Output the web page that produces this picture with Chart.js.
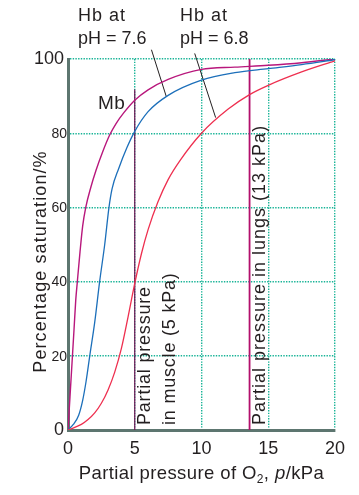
<!DOCTYPE html>
<html>
<head>
<meta charset="utf-8">
<script src="https://cdn.jsdelivr.net/npm/chart.js@4"></script>
<style>
  html, body { margin: 0; padding: 0; background: #fff; }
  canvas { display: block; }
</style>
</head>
<body>
<canvas id="chart" width="359" height="495"></canvas>
<script>
// oxygen dissociation curves
const mbPressure = [0, 0.15, 0.3, 0.45, 0.58, 0.7, 0.9, 1.1, 1.33, 1.7, 2.1, 2.6, 3.12, 3.6, 4.2, 5, 6, 7.5, 10, 12.5, 15, 17.5, 20];
const mbSat      = [0, 9, 18, 27, 35, 40, 48, 55, 60, 65.3, 70, 75, 79.5, 82.6, 85.6, 88.9, 91.7, 94.5, 97.2, 97.8, 98.3, 99, 100];

const hb76Pressure = [0, 0.4, 0.8, 1.1, 1.35, 1.63, 2.0, 2.37, 2.75, 3.07, 3.3, 3.8, 4.4, 5, 6, 7.5, 10, 12.5, 15, 17.5, 20];
const hb76Sat      = [0, 1.5, 4, 8, 13, 20, 29, 40, 50, 60, 65, 70.5, 76, 80.5, 85.8, 90.2, 94.3, 96.3, 97.4, 98.5, 99.8];

const hb68Pressure = [0, 1, 1.5, 2, 2.5, 3, 3.5, 4, 4.5, 5, 5.5, 6, 6.74, 7.5, 8.4, 10, 12, 13.6, 15, 17.5, 20];
const hb68Sat      = [0, 1.5, 2.8, 4.6, 7.2, 10.8, 15.6, 22, 30.5, 39.5, 47.5, 54, 61.5, 67.5, 72.7, 80, 86.5, 90.4, 92.9, 96.5, 99.5];

// reference lines
const musclePressure = [5, 5];
const muscleSat = [0, 91.8];
const lungPressure = [13.6, 13.6];
const lungSat = [0, 100];

// leader lines from the two Hb labels
const leader76Pressure = [6.25, 7.37];
const leader76Sat = [102.5, 89.8];
const leader68Pressure = [9.49, 11.06];
const leader68Sat = [101.5, 84.2];

const xTicks = [0, 5, 10, 15, 20];
const yTicks = [0, 20, 40, 60, 80, 100];

const FONT = "'Liberation Sans', Arial, Helvetica, sans-serif";
const INK = "#231f20";
const GRID = "#19b497";
const AXIS = "#5d7670";

const pts = (xs, ys) => xs.map((x, i) => ({ x: x, y: ys[i] }));

function curve(label, xs, ys, color, width) {
  return {
    label: label,
    data: pts(xs, ys),
    borderColor: color,
    backgroundColor: color,
    borderWidth: width,
    pointRadius: 0,
    tension: 0.4,
    cubicInterpolationMode: "monotone",
    fill: false
  };
}

function text(ctx, s, x, y, size, spacing, align) {
  ctx.font = size + "px " + FONT;
  ctx.letterSpacing = (spacing || 0) + "px";
  ctx.textAlign = align || "left";
  ctx.textBaseline = "alphabetic";
  ctx.fillText(s, x, y);
}

const labelsPlugin = {
  id: "labels",
  afterDraw(chart) {
    const ctx = chart.ctx;
    const xs = chart.scales.x;
    const ys = chart.scales.y;
    ctx.save();
    ctx.fillStyle = INK;

    // y tick labels
    yTicks.forEach(v => {
      const big = v === 0 || v === 100;
      ctx.font = (big ? 18 : 14) + "px " + FONT;
      ctx.letterSpacing = "0px";
      ctx.textAlign = "right";
      ctx.textBaseline = "middle";
      ctx.fillText(String(v), xs.left - (big ? 4 : 1), ys.getPixelForValue(v) + (big ? 0 : 1));
    });

    // curve labels
    text(ctx, "Hb at", 78, 21, 18, 1);
    text(ctx, "pH = 7.6", 78, 44, 18, 0);
    text(ctx, "Hb at", 180, 21, 18, 1);
    text(ctx, "pH = 6.8", 180, 44, 18, 0);
    text(ctx, "Mb", 98, 109, 19, 0.5);

    // rotated labels by the vertical lines
    ctx.save();
    ctx.translate(xs.getPixelForValue(5) + 15.5, 425);
    ctx.rotate(-Math.PI / 2);
    text(ctx, "Partial pressure", 0, 0, 18, 0.8);
    text(ctx, "in muscle (5 kPa)", 0, 24.5, 18, 0.8);
    ctx.restore();

    ctx.save();
    ctx.translate(xs.getPixelForValue(13.6) + 15.5, 425);
    ctx.rotate(-Math.PI / 2);
    text(ctx, "Partial pressure in lungs (13 kPa)", 0, 0, 18, 1);
    ctx.restore();

    // y axis title
    ctx.save();
    ctx.translate(46, 261.5);
    ctx.rotate(-Math.PI / 2);
    text(ctx, "Percentage saturation/%", 0, 0, 18, 1.1, "center");
    ctx.restore();

    // x axis title with subscript and italic p
    const size = 18.5;
    const parts = [
      { s: "Partial pressure of O", f: size + "px " + FONT, dy: 0 },
      { s: "2", f: "12px " + FONT, dy: 4 },
      { s: ", ", f: size + "px " + FONT, dy: 0 },
      { s: "p", f: "italic " + size + "px " + FONT, dy: 0 },
      { s: "/kPa", f: size + "px " + FONT, dy: 0 }
    ];
    ctx.letterSpacing = "0.4px";
    ctx.textAlign = "left";
    ctx.textBaseline = "alphabetic";
    let total = 0;
    parts.forEach(p => { ctx.font = p.f; p.w = ctx.measureText(p.s).width; total += p.w; });
    let x = (xs.left + xs.right) / 2 - total / 2;
    parts.forEach(p => {
      ctx.font = p.f;
      ctx.fillText(p.s, x, 479 + p.dy);
      x += p.w;
    });

    ctx.restore();
  }
};

new Chart(document.getElementById("chart"), {
  type: "line",
  data: {
    datasets: [
      curve("Hb at pH = 6.8", hb68Pressure, hb68Sat, "#ee2f4f", 1.3),
      curve("Hb at pH = 7.6", hb76Pressure, hb76Sat, "#1c6fba", 1.3),
      curve("Mb", mbPressure, mbSat, "#b8177c", 1.4),
      curve("Partial pressure in muscle (5 kPa)", musclePressure, muscleSat, "#6e1050", 1.2),
      curve("Partial pressure in lungs (13 kPa)", lungPressure, lungSat, "#b3106c", 1.8),
      Object.assign(curve("leader 7.6", leader76Pressure, leader76Sat, "#231f20", 1), { clip: false }),
      Object.assign(curve("leader 6.8", leader68Pressure, leader68Sat, "#231f20", 1), { clip: false })
    ]
  },
  options: {
    responsive: false,
    animation: false,
    layout: { padding: { left: 0, right: 24, top: 59, bottom: 0 } },
    plugins: {
      legend: { display: false },
      tooltip: { enabled: false }
    },
    scales: {
      x: {
        type: "linear",
        min: 0,
        max: 20,
        afterBuildTicks: s => { s.ticks = xTicks.map(v => ({ value: v })); },
        ticks: {
          font: { size: 18, family: FONT },
          color: INK,
          padding: 8,
          maxRotation: 0
        },
        grid: { color: GRID, lineWidth: 1.4, drawTicks: false },
        border: { color: AXIS, width: 3, dash: [1.4, 1.3] },
        afterFit: s => { s.height = 65; }
      },
      y: {
        type: "linear",
        min: 0,
        max: 100,
        afterBuildTicks: s => { s.ticks = yTicks.map(v => ({ value: v })); },
        ticks: { display: false },
        grid: { color: GRID, lineWidth: 1.4, drawTicks: false },
        border: { color: AXIS, width: 3, dash: [1.4, 1.3] },
        afterFit: s => { s.width = 68; }
      }
    }
  },
  plugins: [labelsPlugin]
});
</script>
</body>
</html>
